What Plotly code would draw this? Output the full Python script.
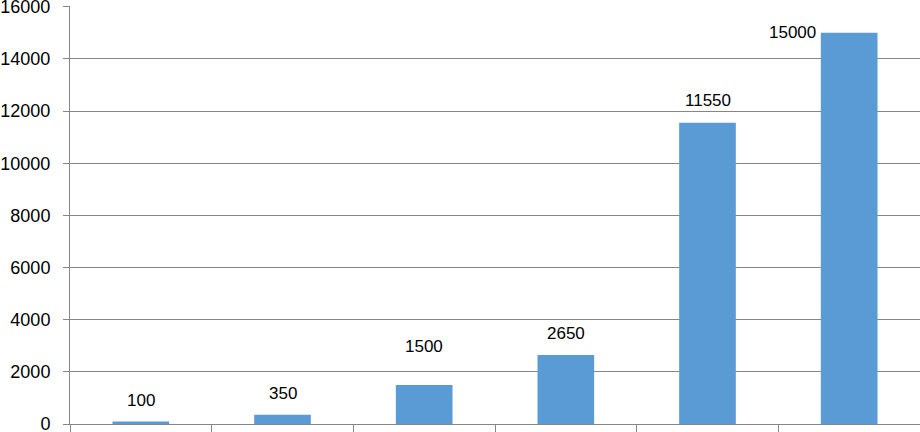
import plotly.graph_objects as go

categories = ["A", "B", "C", "D", "E", "F"]
values = [100, 350, 1500, 2650, 11550, 15000]
label_text = ["100", "350", "1500", "2650", "11550", "15000"]

# label offsets in pixels (style)
label_xshift = [0, 0, 0, 0, 0, -57]
label_yshift = [21, 21, 38, 21, 22, 0]

fig = go.Figure()
fig.add_trace(go.Bar(x=categories, y=values, marker=dict(color="#5B9BD5", line=dict(width=0)),
                     hoverinfo="skip"))

for c, v, t, xs, ys in zip(categories, values, label_text, label_xshift, label_yshift):
    fig.add_annotation(x=c, y=v, xref="x", yref="y", text=t, showarrow=False, xshift=xs, yshift=ys,
                       yanchor="middle", xanchor="center",
                       font=dict(family="Liberation Sans, Arial, sans-serif", size=17, color="#000000"))

fig.update_layout(
    width=920, height=432,
    margin=dict(l=70, r=0, t=6, b=8, autoexpand=False),
    paper_bgcolor="white", plot_bgcolor="white",
    bargap=0.6, showlegend=False,
    font=dict(family="Liberation Sans, Arial, sans-serif", size=18, color="#000000"),
)
fig.update_yaxes(range=[0, 16030], tickvals=[0, 2000, 4000, 6000, 8000, 10000, 12000, 14000, 16000],
                 tickformat="d", showgrid=True, gridcolor="#868686", gridwidth=1,
                 showline=True, linecolor="#868686", linewidth=1, automargin=False,
                 ticks="outside", ticklen=6, tickcolor="#868686", zeroline=False,
                 ticklabeloverflow="allow", ticklabelstandoff=9,
                 tickfont=dict(size=18))
fig.update_xaxes(type="category", showgrid=False, showline=True, linecolor="#868686", linewidth=1,
                 ticks="outside", ticklen=10, tickcolor="#868686", tickson="boundaries",
                 showticklabels=False, automargin=False)

fig.write_html("out.html", config={"displayModeBar": False},
               post_script="document.body.style.margin='0';document.body.style.overflow='hidden';")
